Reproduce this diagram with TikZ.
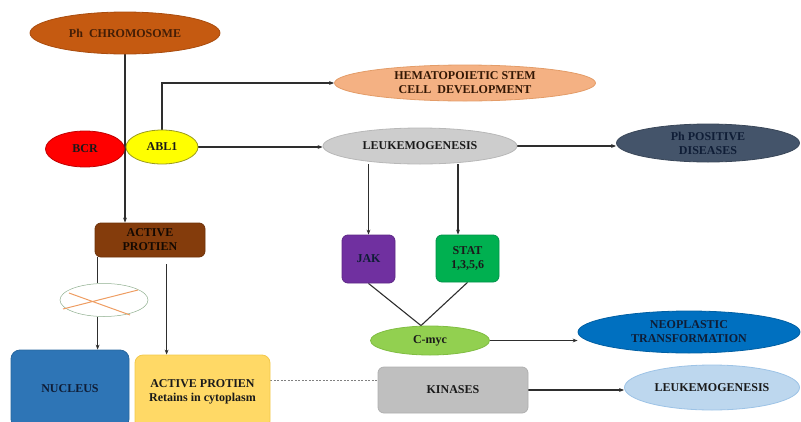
\documentclass[tikz,border=0pt]{standalone}
\usepackage{fontspec}
\setmainfont{Liberation Serif}
\usetikzlibrary{shapes.geometric,arrows.meta,calc}
\pgfdeclarelayer{bg}
\pgfsetlayers{bg,main}
\definecolor{txt}{HTML}{1A1A1A}
\definecolor{navy}{HTML}{0F1D36}
\definecolor{lin}{HTML}{2E2E2E}
\definecolor{phc}{HTML}{C55A11}
\definecolor{phd}{HTML}{A94C0E}
\definecolor{bcrc}{HTML}{FF0000}
\definecolor{bcrd}{HTML}{C00000}
\definecolor{ablc}{HTML}{FFFF00}
\definecolor{abld}{HTML}{9A9A1E}
\definecolor{hscc}{HTML}{F4B183}
\definecolor{hscd}{HTML}{E39C68}
\definecolor{leuc}{HTML}{CDCDCD}
\definecolor{leud}{HTML}{B8B8B8}
\definecolor{phpc}{HTML}{44546A}
\definecolor{phpd}{HTML}{3A4759}
\definecolor{apc}{HTML}{843C0C}
\definecolor{apd}{HTML}{6E3209}
\definecolor{jakc}{HTML}{7030A0}
\definecolor{jakd}{HTML}{5E2886}
\definecolor{statc}{HTML}{00B050}
\definecolor{statd}{HTML}{00924A}
\definecolor{cmyc}{HTML}{92D050}
\definecolor{cmyd}{HTML}{80BD42}
\definecolor{neoc}{HTML}{0070C0}
\definecolor{neod}{HTML}{005FA3}
\definecolor{kinc}{HTML}{BFBFBF}
\definecolor{kind}{HTML}{B0B0B0}
\definecolor{l2c}{HTML}{BDD7EE}
\definecolor{l2d}{HTML}{9DC3E6}
\definecolor{nucc}{HTML}{2E75B6}
\definecolor{nucd}{HTML}{28679F}
\definecolor{ypc}{HTML}{FFD966}
\definecolor{ypd}{HTML}{F2C84B}
\definecolor{blkd}{HTML}{8FAF8F}
\definecolor{crossc}{HTML}{EE9D62}
\begin{document}
\begin{tikzpicture}[x=1pt,y=-1pt,
  lbl/.style={font=\fontsize{12}{14}\selectfont\bfseries, align=center, text=txt},
  ell/.style={ellipse, lbl, inner sep=0pt, draw, line width=0.8pt},
  rbox/.style={rectangle, rounded corners=6pt, lbl, inner sep=0pt, draw, line width=0.8pt},
  conn/.style={line width=1.1pt, draw=lin},
  arr/.style={conn, -{Stealth[length=5pt,width=3.8pt]}},
  dashline/.style={line width=0.7pt, draw=gray, dash pattern=on 2pt off 1.5pt}]
\useasboundingbox (0,0) rectangle (801,421);
\clip (0,0) rectangle (801,421);

\node[ell, fill=phc, draw=phd, text=phd!40!black, minimum width=190pt, minimum height=42pt] (ph) at (125,33) {Ph\ \ CHROMOSOME};
\node[ell, fill=bcrc, draw=bcrd, minimum width=79pt, minimum height=36pt] (bcr) at (85,149) {BCR};
\node[ell, fill=ablc, draw=abld, minimum width=72pt, minimum height=34pt] (abl) at (162,147) {ABL1};
\node[ell, fill=hscc, draw=hscd, text=black!70!phd, minimum width=261pt, minimum height=36pt] (hsc) at (465,83) {HEMATOPOIETIC STEM\\CELL\ \ DEVELOPMENT};
\node[ell, fill=leuc, draw=leud, minimum width=194pt, minimum height=36pt] (leuk) at (420,146) {LEUKEMOGENESIS};
\node[ell, fill=phpc, draw=phpd, text=navy, minimum width=183pt, minimum height=38pt] (php) at (708,143) {Ph POSITIVE\\DISEASES};
\node[rbox, fill=apc, draw=apd, text=black!85!apc, minimum width=110pt, minimum height=34pt] (ap) at (150,240) {ACTIVE\\PROTIEN};
\node[rbox, fill=jakc, draw=jakd, text=navy, minimum width=53pt, minimum height=48pt] (jak) at (368.5,259) {JAK};
\node[rbox, fill=statc, draw=statd, minimum width=63pt, minimum height=47pt] (stat) at (467.5,258.5) {STAT\\1,3,5,6};
\node[ell, fill=cmyc, draw=cmyd, minimum width=119pt, minimum height=29pt] (cmyc) at (430,340.5) {C-myc};
\node[ell, fill=neoc, draw=neod, text=navy, minimum width=222pt, minimum height=42pt] (neo) at (689,332) {NEOPLASTIC\\TRANSFORMATION};
\node[rbox, fill=kinc, draw=kind, minimum width=150pt, minimum height=46pt] (kin) at (453,390) {KINASES};
\node[ell, fill=l2c, draw=l2d, minimum width=175pt, minimum height=45pt] (leuk2) at (712,387.5) {LEUKEMOGENESIS};
\node[rbox, rounded corners=9pt, fill=nucc, draw=nucd, text=navy, minimum width=118pt, minimum height=78pt] (nuc) at (70,389) {NUCLEUS};
\node[rbox, rounded corners=8pt, fill=ypc, draw=ypd, minimum width=135pt, minimum height=74pt] (ypro) at (202.5,392) {ACTIVE PROTIEN\\Retains in cytoplasm};
\node[ellipse, draw=blkd, line width=0.5pt, inner sep=0pt, minimum width=88pt, minimum height=33pt] (blk) at (104,300) {};
\draw[crossc, line width=1pt] (69,293) -- (130,315) (63,309) -- (138,290);

\coordinate (st) at ([xshift=-9.5pt]stat.north);
\coordinate (meet) at ([xshift=-9pt]cmyc.north);
\coordinate (a1) at ([xshift=3pt]ap.south west);
\coordinate (a2) at ($(ap.south west)+(72,7)$);
\coordinate (dy) at (0,380);

\begin{pgfonlayer}{bg}
\draw[arr] (ph.south) -- (ph.south |- ap.north);
\draw[arr] (abl.north) |- (hsc.west);
\draw[arr] (abl.east) -- (abl.east -| leuk.west);
\draw[arr] (leuk.east) -- (leuk.east -| php.west);
\draw[arr] (jak.north |- leuk.south) -- (jak.north);
\draw[arr] (st |- leuk.south) -- (st);
\draw[conn] (jak.south) -- (meet) -- (stat.south);
\draw[arr] (cmyc.east) -- (cmyc.east -| neo.west);
\draw[arr] (kin.east) -- (kin.east -| leuk2.west);
\draw[conn] (a1) -- (a1 |- blk.north);
\draw[arr] (a1 |- blk.south) -- (a1 |- nuc.north);
\draw[arr] (a2) -- (a2 |- ypro.north);
\draw[dashline] (ypro.east |- dy) -- (kin.west |- dy);
\end{pgfonlayer}
\end{tikzpicture}
\end{document}
